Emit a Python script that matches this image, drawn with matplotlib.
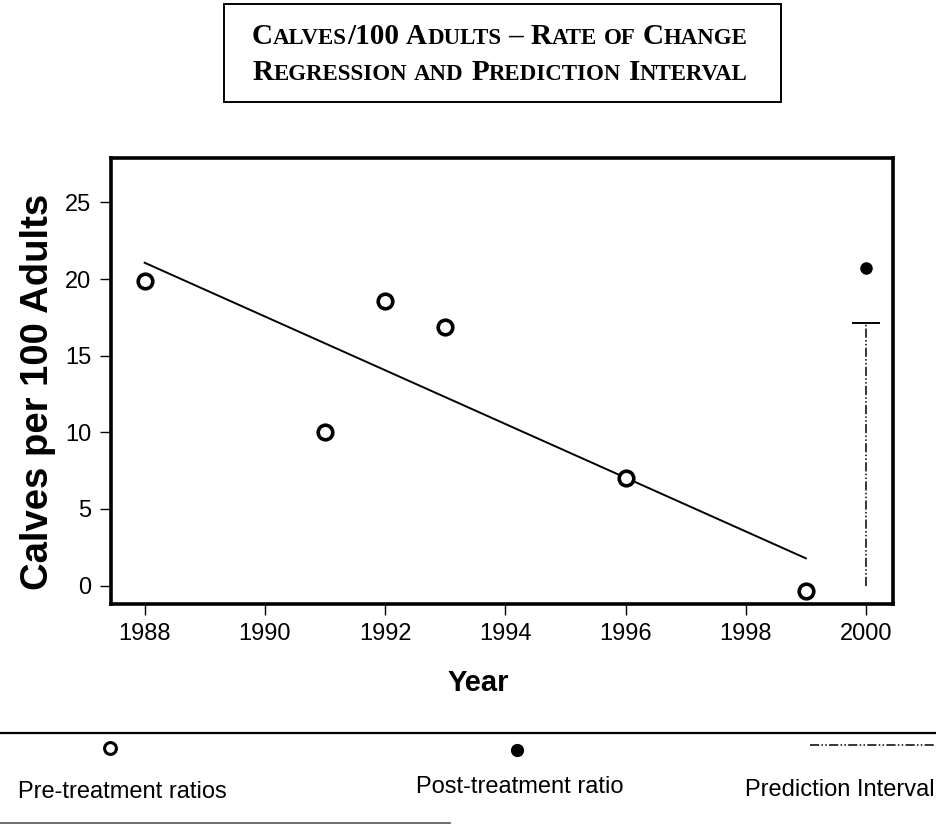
import numpy as np
import matplotlib
matplotlib.use('Agg')
import matplotlib.pyplot as plt
from matplotlib.lines import Line2D
from matplotlib.patches import Rectangle

# pre-treatment calves per 100 adults
years = [1988, 1991, 1992, 1993, 1996, 1999]
calves = [19.9, 10.0, 18.6, 16.9, 7.0, -0.35]

# post-treatment ratio
post_year = [2000]
post_calves = [20.7]

# prediction interval at 2000
pi_year = 2000
pi_low, pi_high = 0.0, 17.15

x_ticks = [1988, 1990, 1992, 1994, 1996, 1998, 2000]
y_ticks = [0, 5, 10, 15, 20, 25]

title_lines = ['Calves/100 Adults \u2013 Rate of Change',
               'Regression and Prediction Interval']

W, H = 937, 825
fig = plt.figure(figsize=(W / 100, H / 100), dpi=100)
sans = 'Liberation Sans'
serif = 'Liberation Serif'


def fx(px):
    return px / W


def fy(py):
    return 1 - py / H


ax = fig.add_axes([fx(111), fy(604), fx(893) - fx(111), fy(158) - fy(604)])

# regression line over pre-treatment years
slope, intercept = np.polyfit(years, calves, 1)
reg_x = np.array([years[0], years[-1]])
ax.plot(reg_x, slope * reg_x + intercept, color='black', lw=1.4)

ax.plot(years, calves, 'o', ms=10.5, mfc='white', mec='black', mew=2.6)
ax.plot(post_year, post_calves, 'o', ms=8, color='black')

# prediction interval (top cap only)
ax.plot([pi_year, pi_year], [pi_low, pi_high], color='black', lw=1.1,
        linestyle=(0, (6, 1.5, 1, 1.5, 1, 1.5)))
ax.plot([pi_year - 0.21, pi_year + 0.21], [pi_high, pi_high], color='black', lw=1.4)

ax.set_xlim(1987.44, 2000.45)
ax.set_ylim(-1.2, 27.9)
ax.set_xticks(x_ticks)
ax.set_yticks(y_ticks)
ax.tick_params(direction='out', length=8, width=1, pad=6, labelsize=17)
for lbl in ax.get_xticklabels() + ax.get_yticklabels():
    lbl.set_family(sans)
for sp in ax.spines.values():
    sp.set_linewidth(2.6)

fig.text(fx(38), fy(392), 'Calves per 100 Adults', rotation=90, ha='center', va='center',
         fontsize=27.5, fontweight='bold', family=sans)
fig.text(fx(478), fy(683), 'Year', ha='center', va='center',
         fontsize=21, fontweight='bold', family=sans)

# title box with faux small caps
fig.patches.append(Rectangle((fx(224), fy(102)), fx(781) - fx(224), fy(4) - fy(102),
                             transform=fig.transFigure, fill=False, lw=1.4, ec='black'))

renderer = fig.canvas.get_renderer()
big, small = 21, 16.5


def width_of(s, size):
    t = fig.text(0, 0, s, fontsize=size, fontweight='bold', family=serif)
    w = t.get_window_extent(renderer).width
    t.remove()
    return w


def small_caps(text, baseline_px, center_px):
    runs = []
    for ch in text:
        kind = 'space' if ch == ' ' else ('small' if ch.islower() else 'big')
        if runs and runs[-1][0] == kind:
            runs[-1][1] += ch
        else:
            runs.append([kind, ch])
    space_w = width_of('I I', big) - width_of('II', big)
    widths = []
    for kind, s in runs:
        if kind == 'space':
            widths.append(space_w * len(s))
        elif kind == 'small':
            widths.append(width_of(s.upper(), small))
        else:
            widths.append(width_of(s, big))
    x = center_px - sum(widths) / 2
    for (kind, s), w in zip(runs, widths):
        if kind != 'space':
            size = small if kind == 'small' else big
            fig.text(fx(x), fy(baseline_px), s.upper(), fontsize=size, fontweight='bold',
                     family=serif, va='baseline', ha='left')
        x += w


small_caps(title_lines[0], 44, 500)
small_caps(title_lines[1], 80, 500)

# legend strip at the bottom
fig.add_artist(Line2D([0, 1], [fy(733), fy(733)], color='black', lw=1.6, transform=fig.transFigure))
fig.add_artist(Line2D([0, fx(450)], [fy(823), fy(823)], color='#555555', lw=1.2,
                      transform=fig.transFigure))
fig.add_artist(Line2D([fx(110)], [fy(748)], marker='o', ms=8.5, mfc='white', mec='black', mew=2.2,
                      transform=fig.transFigure))
fig.add_artist(Line2D([fx(517)], [fy(750)], marker='o', ms=8.5, color='black',
                      transform=fig.transFigure))
fig.add_artist(Line2D([fx(810), fx(937)], [fy(745), fy(745)], color='black', lw=1.1,
                      linestyle=(0, (6, 1.5, 1, 1.5, 1, 1.5)), transform=fig.transFigure))
fig.text(fx(18), fy(792), 'Pre-treatment ratios', ha='left', va='center', fontsize=17, family=sans)
fig.text(fx(520), fy(787), 'Post-treatment ratio', ha='center', va='center', fontsize=17, family=sans)
fig.text(fx(935), fy(790), 'Prediction Interval', ha='right', va='center', fontsize=17, family=sans)

fig.savefig('out.png', dpi=100)
